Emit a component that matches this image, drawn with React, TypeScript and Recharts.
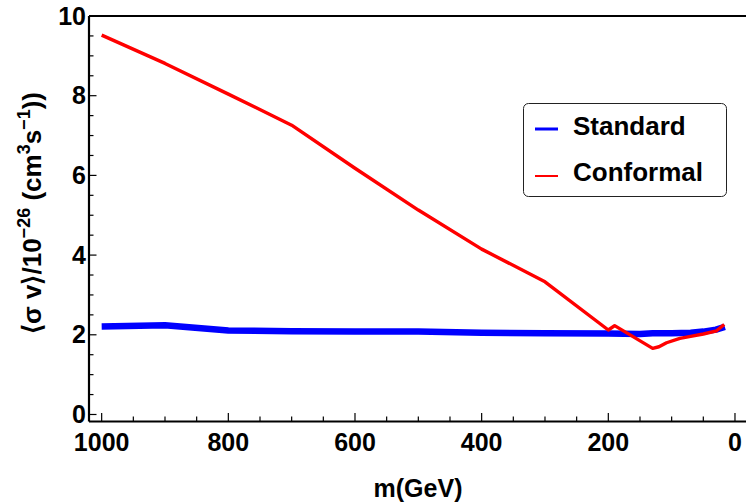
import React from 'react';
import { LineChart, Line, XAxis, YAxis, Legend } from 'recharts';

const standardMass = [1000, 900, 800, 700, 600, 500, 400, 300, 200, 150, 130, 100, 70, 50, 30, 16];
const standardValue = [2.21, 2.24, 2.11, 2.09, 2.08, 2.08, 2.05, 2.04, 2.03, 2.02, 2.04, 2.04, 2.05, 2.08, 2.13, 2.2];

const conformalMass = [1000, 900, 800, 700, 600, 500, 400, 300, 200, 190, 130, 120, 108, 87, 70, 50, 29, 17];
const conformalValue = [9.52, 8.81, 8.04, 7.26, 6.18, 5.13, 4.15, 3.33, 2.12, 2.23, 1.66, 1.7, 1.8, 1.91, 1.96, 2.02, 2.1, 2.26];

const xTicks: number[] = [];
for (let m = 1000; m >= 0; m -= 50) xTicks.push(m);
const yTicks: number[] = [];
for (let v = 0; v <= 10; v += 0.5) yTicks.push(v);

const standardData = standardMass.map((m, i) => ({ m, v: standardValue[i] }));
const conformalData = conformalMass.map((m, i) => ({ m, v: conformalValue[i] }));

const FONT = '"Liberation Sans", Arial, Helvetica, sans-serif';

const XTick = (props: any) => {
  const { x, y, payload } = props;
  const v = payload.value;
  const major = Math.abs(v % 200) < 1e-6;
  return (
    <g>
      <line x1={x} x2={x} y1={y} y2={y - (major ? 8.5 : 5)} stroke="#000" strokeWidth={1.2} />
      {major && (
        <text x={x} y={y + 29.5} textAnchor="middle" fontFamily={FONT} fontWeight="bold" fontSize={25} fill="#000">
          {v}
        </text>
      )}
    </g>
  );
};

const YTick = (props: any) => {
  const { x, y, payload } = props;
  const v = payload.value;
  const major = Math.abs(v % 2) < 1e-6;
  return (
    <g>
      <line x1={x} x2={x + (major ? 7.5 : 4.5)} y1={y} y2={y} stroke="#000" strokeWidth={1.2} />
      {major && (
        <text x={x - 3} y={y + 8.5} textAnchor="end" fontFamily={FONT} fontWeight="bold" fontSize={25} fill="#000">
          {v}
        </text>
      )}
    </g>
  );
};

const YLabel = () => (
  <text
    x={41}
    y={213}
    transform="rotate(-90, 41, 213)"
    textAnchor="middle"
    fontFamily={FONT}
    fontWeight="bold"
    fontSize={26}
    fill="#000"
  >
    <tspan>{'\u27E8\u03C3 v\u27E9/10'}</tspan>
    <tspan dy={-11} fontSize={18}>{'\u221226'}</tspan>
    <tspan dy={11}>{' (cm'}</tspan>
    <tspan dy={-11} fontSize={18}>3</tspan>
    <tspan dy={11}>s</tspan>
    <tspan dy={-11} fontSize={18}>{'\u22121'}</tspan>
    <tspan dy={11}>))</tspan>
  </text>
);

const XLabel = () => (
  <text x={418} y={497} textAnchor="middle" fontFamily={FONT} fontWeight="bold" fontSize={25} fill="#000">
    m(GeV)
  </text>
);

const LegendBox = () => (
  <svg width={205} height={95} style={{ display: 'block', overflow: 'visible' }}>
    <rect x={0.5} y={0.5} width={203} height={93} rx={5} ry={5} fill="#fff" stroke="#222" strokeWidth={1} />
    <line x1={12} x2={35} y1={26} y2={26} stroke="#0000ff" strokeWidth={3} />
    <text x={50} y={31.5} fontFamily={FONT} fontWeight="bold" fontSize={26} fill="#000">Standard</text>
    <line x1={12} x2={35} y1={73} y2={73} stroke="#ff0000" strokeWidth={2} />
    <text x={50} y={78} fontFamily={FONT} fontWeight="bold" fontSize={26} fill="#000">Conformal</text>
  </svg>
);

export default function App() {
  return (
    <div style={{ position: 'absolute', left: 0, top: 0, width: 746, height: 504, overflow: 'hidden', background: '#fff' }}>
      <LineChart
        width={760}
        height={504}
        margin={{ top: 15, left: 88, right: 14, bottom: 81.5 }}
        style={{ background: '#fff' }}
      >
        <XAxis
          dataKey="m"
          type="number"
          domain={[-17.4, 1020]}
          reversed
          allowDataOverflow
          ticks={xTicks}
          interval={0}
          tickSize={0}
          tickMargin={0}
          height={1}
          tickLine={false}
          tick={<XTick />}
          axisLine={{ stroke: '#000', strokeWidth: 2.2 }}
          label={<XLabel />}
        />
        <XAxis
          xAxisId="top"
          orientation="top"
          dataKey="m"
          type="number"
          domain={[-17.4, 1020]}
          reversed
          allowDataOverflow
          ticks={[1000]}
          height={1}
          tick={false}
          tickLine={false}
          axisLine={{ stroke: '#000', strokeWidth: 2.2 }}
        />
        <YAxis
          type="number"
          domain={[-0.176, 10]}
          allowDataOverflow
          ticks={yTicks}
          interval={0}
          tickSize={0}
          tickMargin={0}
          width={1}
          tickLine={false}
          tick={<YTick />}
          axisLine={{ stroke: '#000', strokeWidth: 2.2 }}
          label={<YLabel />}
        />
        <Legend
          content={<LegendBox />}
          wrapperStyle={{ position: 'absolute', left: 523, top: 103, width: 0, height: 0, overflow: 'visible' }}
        />
        <Line
          data={standardData}
          dataKey="v"
          name="Standard"
          type="linear"
          stroke="#0000ff"
          strokeWidth={6.5}
          dot={false}
          activeDot={false}
          strokeLinejoin="round"
          isAnimationActive={false}
        />
        <Line
          data={conformalData}
          dataKey="v"
          name="Conformal"
          type="linear"
          stroke="#ff0000"
          strokeWidth={3.4}
          dot={false}
          activeDot={false}
          strokeLinejoin="round"
          isAnimationActive={false}
        />
      </LineChart>
    </div>
  );
}
